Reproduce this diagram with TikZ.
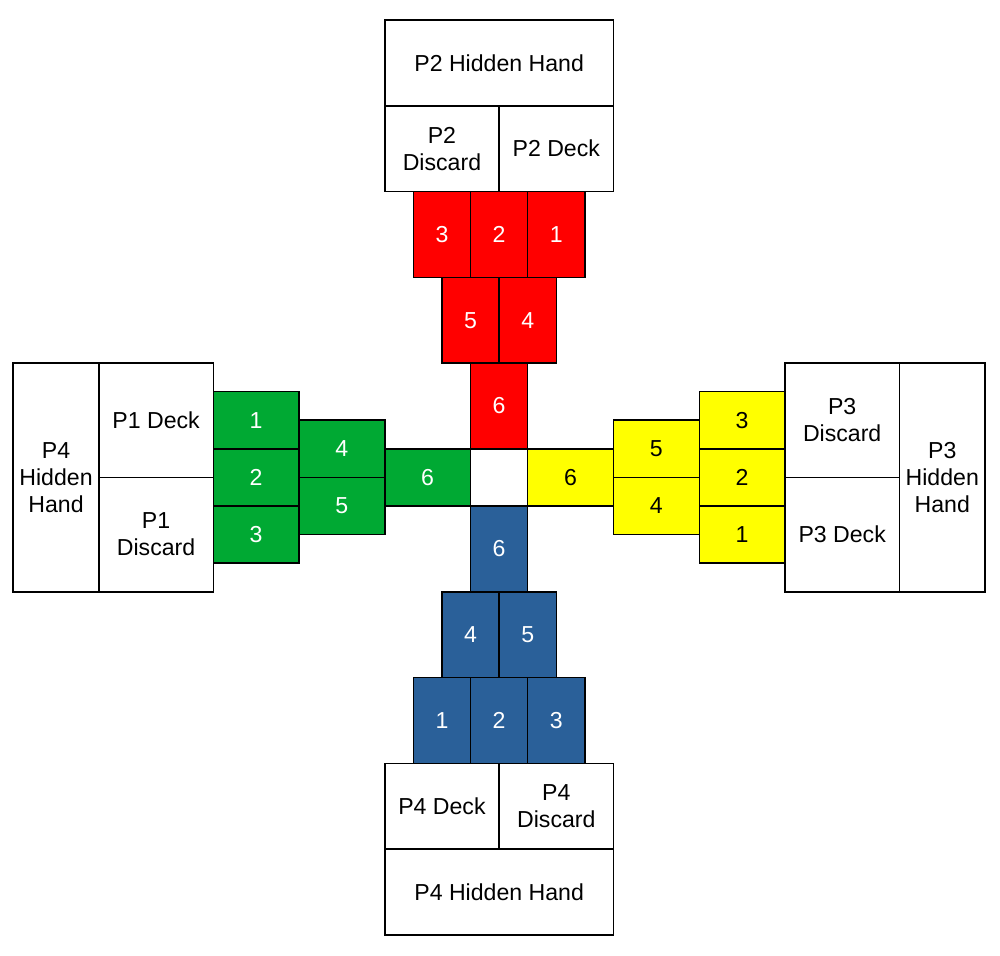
\documentclass[tikz,border=0pt]{standalone}
\usepackage{fontspec}
\setmainfont{Liberation Sans}
\definecolor{cardred}{HTML}{FF0000}
\definecolor{cardgreen}{HTML}{00A933}
\definecolor{cardyellow}{HTML}{FFFF00}
\definecolor{cardblue}{HTML}{2A6099}

\begin{document}
\begin{tikzpicture}[line join=miter, font=\fontsize{11.5}{13.5}\selectfont,
	cell/.style={draw=black, line width=0.75pt, inner sep=0pt, align=center},
	vcard/.style={cell, minimum width=1cm, minimum height=1.5cm},
	hcard/.style={cell, minimum width=1.5cm, minimum height=1cm},
	pile/.style={cell, fill=white, minimum width=2cm, minimum height=#1},
	hand/.style={cell, fill=white}]
\useasboundingbox (-8.73,-8.37) rectangle (8.76,8.35);
%========================
% Top: P2 (red)
%========================
\node[hand, minimum width=4cm, minimum height=1.5cm] (p2hand) at (0,7.25) {P2 Hidden Hand};
\node[pile=1.5cm] (p2discard) at (-1,5.75) {P2\\Discard};
\node[pile=1.5cm] (p2deck) at (1,5.75) {P2 Deck};
\foreach \n/\x in {3/-1, 2/0, 1/1}
	\node[vcard, fill=cardred, text=white] (r\n) at (\x,4.25) {\n};
\foreach \n/\x in {5/-0.5, 4/0.5}
	\node[vcard, fill=cardred, text=white] (r\n) at (\x,2.75) {\n};
\node[vcard, fill=cardred, text=white] (r6) at (0,1.25) {6};

%========================
% Left: P1 (green)
%========================
\node[hand, minimum width=1.5cm, minimum height=4cm] (p4handleft) at (-7.75,0) {P4\\Hidden\\Hand};
\node[pile=2cm] (p1deck) at (-6,1) {P1 Deck};
\node[pile=2cm] (p1discard) at (-6,-1) {P1\\Discard};
\foreach \n/\y in {1/1, 2/0, 3/-1}
	\node[hcard, fill=cardgreen, text=white] (g\n) at (-4.25,\y) {\n};
\foreach \n/\y in {4/0.5, 5/-0.5}
	\node[hcard, fill=cardgreen, text=white] (g\n) at (-2.75,\y) {\n};
\node[hcard, fill=cardgreen, text=white] (g6) at (-1.25,0) {6};

%========================
% Right: P3 (yellow)
%========================
\node[hand, minimum width=1.5cm, minimum height=4cm] (p3hand) at (7.75,0) {P3\\Hidden\\Hand};
\node[pile=2cm] (p3discard) at (6,1) {P3\\Discard};
\node[pile=2cm] (p3deck) at (6,-1) {P3 Deck};
\foreach \n/\y in {3/1, 2/0, 1/-1}
	\node[hcard, fill=cardyellow] (y\n) at (4.25,\y) {\n};
\foreach \n/\y in {5/0.5, 4/-0.5}
	\node[hcard, fill=cardyellow] (y\n) at (2.75,\y) {\n};
\node[hcard, fill=cardyellow] (y6) at (1.25,0) {6};

%========================
% Bottom: P4 (blue)
%========================
\node[vcard, fill=cardblue, text=white] (b6) at (0,-1.25) {6};
\foreach \n/\x in {4/-0.5, 5/0.5}
	\node[vcard, fill=cardblue, text=white] (b\n) at (\x,-2.75) {\n};
\foreach \n/\x in {1/-1, 2/0, 3/1}
	\node[vcard, fill=cardblue, text=white] (b\n) at (\x,-4.25) {\n};
\node[pile=1.5cm] (p4deck) at (-1,-5.75) {P4 Deck};
\node[pile=1.5cm] (p4discard) at (1,-5.75) {P4\\Discard};
\node[hand, minimum width=4cm, minimum height=1.5cm] (p4hand) at (0,-7.25) {P4 Hidden Hand};
\end{tikzpicture}
\end{document}
